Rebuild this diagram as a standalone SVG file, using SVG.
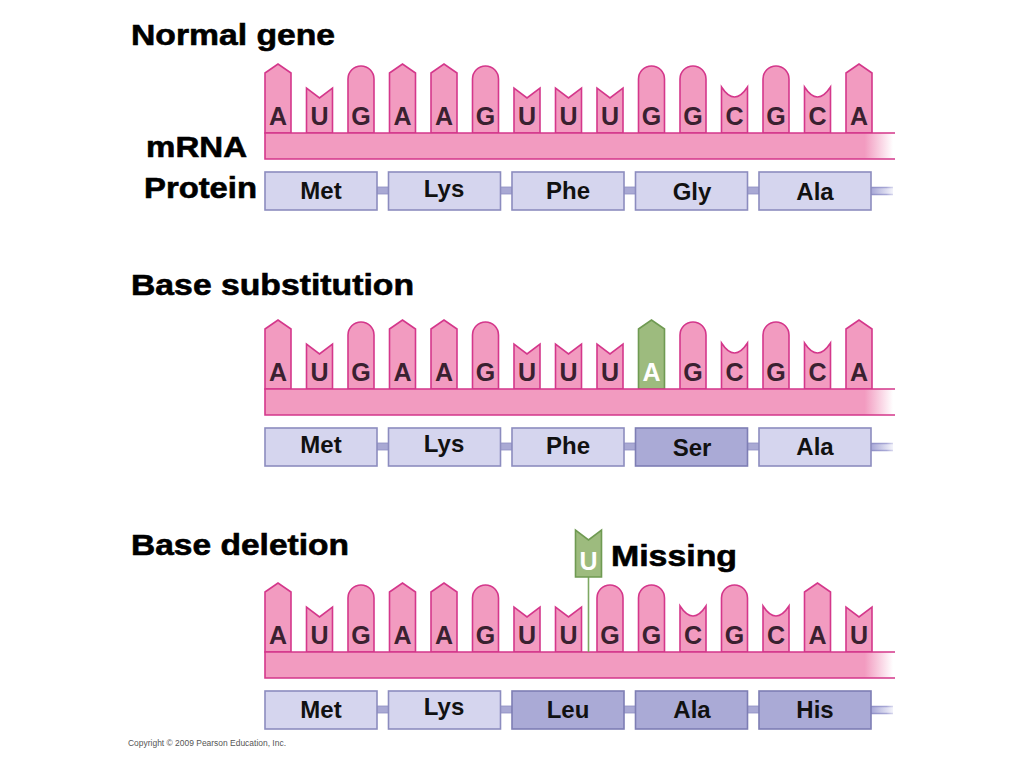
<svg xmlns="http://www.w3.org/2000/svg" xmlns:xlink="http://www.w3.org/1999/xlink" width="1024" height="768" viewBox="0 0 1024 768">
<style>
.tab{fill:#f29bc0;stroke:#d4378b;stroke-width:1.6;stroke-linejoin:miter}
.gtab{fill:#9dbb7e;stroke:#6f9a52;stroke-width:1.6}
.base{font-family:"Liberation Sans",Arial,sans-serif;font-weight:bold;font-size:25px;fill:#3a2130;text-anchor:middle}
.wbase{font-family:"Liberation Sans",Arial,sans-serif;font-weight:bold;font-size:25px;fill:#ffffff;text-anchor:middle}
.bb{fill:url(#fade)}
.bbline{fill:none;stroke:#d4378b;stroke-width:1.6}
.box{fill:#d5d5ee;stroke:#8c8cbf;stroke-width:1.6}
.mbox{fill:#aaaad6;stroke:#7e7eb4;stroke-width:1.6}
.aa{font-family:"Liberation Sans",Arial,sans-serif;font-weight:bold;font-size:24px;fill:#111;text-anchor:middle}
.bar{fill:#a9a9d4;stroke:#9090c4;stroke-width:0.8}
.title{font-family:"Liberation Sans",Arial,sans-serif;font-weight:bold;font-size:30px;fill:#000;stroke:#000;stroke-width:0.6}
.copy{font-family:"Liberation Sans",Arial,sans-serif;font-size:8.5px;fill:#555}
</style>
<defs>
<linearGradient id="fade" x1="0" y1="0" x2="1" y2="0">
<stop offset="0" stop-color="#f29bc0"/>
<stop offset="0.955" stop-color="#f29bc0"/>
<stop offset="1" stop-color="#ffffff"/>
</linearGradient>
<linearGradient id="fade2" x1="0" y1="0" x2="1" y2="0">
<stop offset="0" stop-color="#8f8fc6"/>
<stop offset="0.7" stop-color="#a8a8d6"/>
<stop offset="1" stop-color="#d8d8ee"/>
</linearGradient>
<linearGradient id="fade3" x1="0" y1="0" x2="1" y2="0">
<stop offset="0" stop-color="#a6a6d6"/>
<stop offset="1" stop-color="#f4f4fb"/>
</linearGradient>
<path id="pA" d="M0,0 V-60 L13,-69 L26,-60 V0 Z"/>
<path id="pG" d="M0,0 V-54 A13,13 0 0 1 26,-54 V0 Z"/>
<path id="pU" d="M0,0 V-45 L13,-35 L26,-45 V0 Z"/>
<path id="pC" d="M0,0 V-46 Q13,-26 26,-46 V0 Z"/>
<g id="tailEnd"><rect x="871" y="187" width="22" height="8" fill="url(#fade3)"/><path d="M871,187.5 H893 M871,194.5 H893" stroke="url(#fade2)" stroke-width="1.6" fill="none"/></g>
</defs>
<rect width="1024" height="768" fill="#ffffff"/>

<!-- Labels -->
<g id="labels">
<text class="title" x="131" y="45" textLength="204" lengthAdjust="spacingAndGlyphs">Normal gene</text>
<text class="title" x="146" y="157" textLength="101" lengthAdjust="spacingAndGlyphs">mRNA</text>
<text class="title" x="144" y="198" textLength="113" lengthAdjust="spacingAndGlyphs">Protein</text>
<text class="title" x="131" y="295" textLength="283" lengthAdjust="spacingAndGlyphs">Base substitution</text>
<text class="title" x="131" y="555" textLength="218" lengthAdjust="spacingAndGlyphs">Base deletion</text>
<text class="title" x="611" y="566" textLength="126" lengthAdjust="spacingAndGlyphs">Missing</text>
<text class="copy" x="128" y="746" textLength="158" lengthAdjust="spacingAndGlyphs">Copyright © 2009 Pearson Education, Inc.</text>
</g>

<!-- Row 1: Normal gene -->
<g id="row1">
<g id="r1-bases" class="tab" transform="translate(0,133)">
<use href="#pA" x="265"/><use href="#pU" x="306.5"/><use href="#pG" x="348"/><use href="#pA" x="389.5"/><use href="#pA" x="431"/><use href="#pG" x="472.5"/><use href="#pU" x="514"/><use href="#pU" x="555.5"/><use href="#pU" x="597"/><use href="#pG" x="638.5"/><use href="#pG" x="680"/><use href="#pC" x="721.5"/><use href="#pG" x="763"/><use href="#pC" x="804.5"/><use href="#pA" x="846"/>
</g>
<g id="r1-backbone"><rect class="bb" x="265" y="133" width="628" height="26"/><path class="bbline" d="M895,133 H265 V159 H895"/></g>
<g id="r1-letters">
<text class="base" x="278" y="125">A</text><text class="base" x="319.5" y="125">U</text><text class="base" x="361" y="125">G</text><text class="base" x="402.5" y="125">A</text><text class="base" x="444" y="125">A</text><text class="base" x="485.5" y="125">G</text><text class="base" x="527" y="125">U</text><text class="base" x="568.5" y="125">U</text><text class="base" x="610" y="125">U</text><text class="base" x="651.5" y="125">G</text><text class="base" x="693" y="125">G</text><text class="base" x="734.5" y="125">C</text><text class="base" x="776" y="125">G</text><text class="base" x="817.5" y="125">C</text><text class="base" x="859" y="125">A</text>
</g>
<g id="r1-connectors">
<rect class="bar" x="377" y="187" width="11.5" height="7"/><rect class="bar" x="500.5" y="187" width="11.5" height="7"/><rect class="bar" x="624" y="187" width="11.5" height="7"/><rect class="bar" x="747.5" y="187" width="11.5" height="7"/>
<use href="#tailEnd"/>
</g>
<g id="r1-met"><rect class="box" x="265" y="172" width="112" height="38"/><text class="aa" x="321" y="199">Met</text></g>
<g id="r1-lys"><rect class="box" x="388.5" y="172" width="112" height="38"/><text class="aa" x="444" y="197">Lys</text></g>
<g id="r1-phe"><rect class="box" x="512" y="172" width="112" height="38"/><text class="aa" x="568" y="199">Phe</text></g>
<g id="r1-gly"><rect class="box" x="635.5" y="172" width="112" height="38"/><text class="aa" x="692" y="200">Gly</text></g>
<g id="r1-ala"><rect class="box" x="759" y="172" width="112" height="38"/><text class="aa" x="815" y="200">Ala</text></g>
</g>

<!-- Row 2: Base substitution -->
<g id="row2" transform="translate(0,256)">
<g id="r2-bases" class="tab" transform="translate(0,133)">
<use href="#pA" x="265"/><use href="#pU" x="306.5"/><use href="#pG" x="348"/><use href="#pA" x="389.5"/><use href="#pA" x="431"/><use href="#pG" x="472.5"/><use href="#pU" x="514"/><use href="#pU" x="555.5"/><use href="#pU" x="597"/><use href="#pG" x="680"/><use href="#pC" x="721.5"/><use href="#pG" x="763"/><use href="#pC" x="804.5"/><use href="#pA" x="846"/>
</g>
<g id="r2-substituted" transform="translate(0,133)"><use href="#pA" x="638.5" class="gtab"/></g>
<g id="r2-backbone"><rect class="bb" x="265" y="133" width="628" height="26"/><path class="bbline" d="M895,133 H265 V159 H895"/></g>
<g id="r2-letters">
<text class="base" x="278" y="125">A</text><text class="base" x="319.5" y="125">U</text><text class="base" x="361" y="125">G</text><text class="base" x="402.5" y="125">A</text><text class="base" x="444" y="125">A</text><text class="base" x="485.5" y="125">G</text><text class="base" x="527" y="125">U</text><text class="base" x="568.5" y="125">U</text><text class="base" x="610" y="125">U</text><text class="wbase" x="651.5" y="125">A</text><text class="base" x="693" y="125">G</text><text class="base" x="734.5" y="125">C</text><text class="base" x="776" y="125">G</text><text class="base" x="817.5" y="125">C</text><text class="base" x="859" y="125">A</text>
</g>
<g id="r2-connectors">
<rect class="bar" x="377" y="187" width="11.5" height="7"/><rect class="bar" x="500.5" y="187" width="11.5" height="7"/><rect class="bar" x="624" y="187" width="11.5" height="7"/><rect class="bar" x="747.5" y="187" width="11.5" height="7"/>
<use href="#tailEnd"/>
</g>
<g id="r2-met"><rect class="box" x="265" y="172" width="112" height="38"/><text class="aa" x="321" y="197">Met</text></g>
<g id="r2-lys"><rect class="box" x="388.5" y="172" width="112" height="38"/><text class="aa" x="444" y="196">Lys</text></g>
<g id="r2-phe"><rect class="box" x="512" y="172" width="112" height="38"/><text class="aa" x="568" y="198">Phe</text></g>
<g id="r2-ser"><rect class="mbox" x="635.5" y="172" width="112" height="38"/><text class="aa" x="692" y="200">Ser</text></g>
<g id="r2-ala"><rect class="box" x="759" y="172" width="112" height="38"/><text class="aa" x="815" y="199">Ala</text></g>
</g>

<!-- Row 3: Base deletion -->
<g id="row3" transform="translate(0,519)">
<g id="r3-bases" class="tab" transform="translate(0,133)">
<use href="#pA" x="265"/><use href="#pU" x="306.5"/><use href="#pG" x="348"/><use href="#pA" x="389.5"/><use href="#pA" x="431"/><use href="#pG" x="472.5"/><use href="#pU" x="514"/><use href="#pU" x="555.5"/><use href="#pG" x="597"/><use href="#pG" x="638.5"/><use href="#pC" x="680"/><use href="#pG" x="721.5"/><use href="#pC" x="763"/><use href="#pA" x="804.5"/><use href="#pU" x="846"/>
</g>
<g id="r3-backbone"><rect class="bb" x="265" y="133" width="628" height="26"/><path class="bbline" d="M895,133 H265 V159 H895"/></g>
<g id="r3-letters">
<text class="base" x="278" y="125">A</text><text class="base" x="319.5" y="125">U</text><text class="base" x="361" y="125">G</text><text class="base" x="402.5" y="125">A</text><text class="base" x="444" y="125">A</text><text class="base" x="485.5" y="125">G</text><text class="base" x="527" y="125">U</text><text class="base" x="568.5" y="125">U</text><text class="base" x="610" y="125">G</text><text class="base" x="651.5" y="125">G</text><text class="base" x="693" y="125">C</text><text class="base" x="734.5" y="125">G</text><text class="base" x="776" y="125">C</text><text class="base" x="817.5" y="125">A</text><text class="base" x="859" y="125">U</text>
</g>
<g id="r3-connectors">
<line x1="588.5" y1="58" x2="588.5" y2="133" stroke="#7ea862" stroke-width="1.6"/>
<rect class="bar" x="377" y="187" width="11.5" height="7"/><rect class="bar" x="500.5" y="187" width="11.5" height="7"/><rect class="bar" x="624" y="187" width="11.5" height="7"/><rect class="bar" x="747.5" y="187" width="11.5" height="7"/>
<use href="#tailEnd"/>
</g>
<g id="r3-missing-u"><path class="gtab" d="M575.5,58 V11 L588.5,21 L601.5,11 V58 Z"/><text class="wbase" x="588.5" y="51">U</text></g>
<g id="r3-met"><rect class="box" x="265" y="172" width="112" height="38"/><text class="aa" x="321" y="199">Met</text></g>
<g id="r3-lys"><rect class="box" x="388.5" y="172" width="112" height="38"/><text class="aa" x="444" y="196">Lys</text></g>
<g id="r3-leu"><rect class="mbox" x="512" y="172" width="112" height="38"/><text class="aa" x="568" y="199">Leu</text></g>
<g id="r3-ala"><rect class="mbox" x="635.5" y="172" width="112" height="38"/><text class="aa" x="692" y="199">Ala</text></g>
<g id="r3-his"><rect class="mbox" x="759" y="172" width="112" height="38"/><text class="aa" x="815" y="199">His</text></g>
</g>
</svg>
